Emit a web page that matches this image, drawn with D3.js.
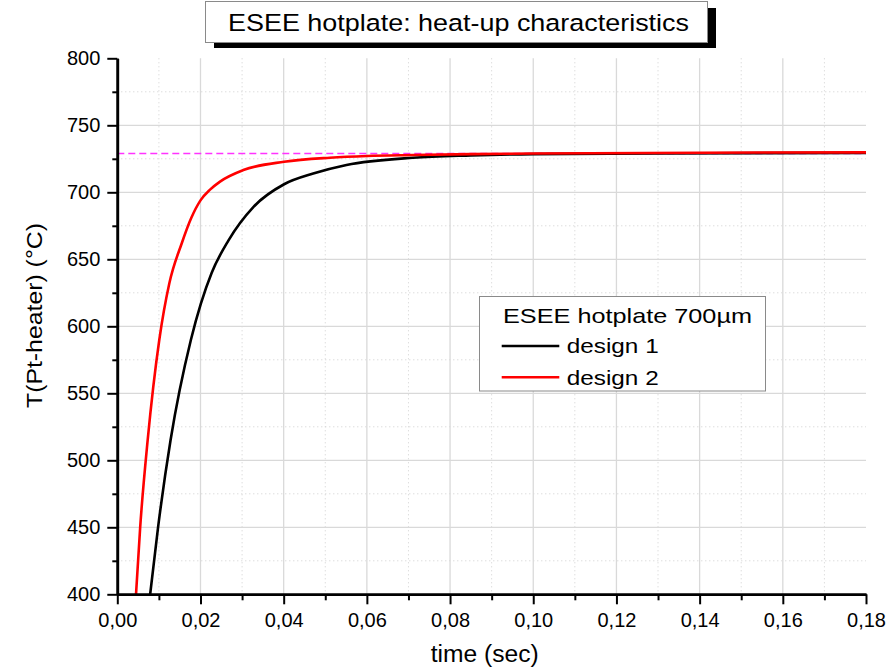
<!DOCTYPE html>
<html>
<head>
<meta charset="utf-8">
<script src="https://cdn.jsdelivr.net/npm/d3@7"></script>
<style>
  body { margin: 0; background: #fff; }
  svg text { font-family: "Liberation Sans", Arial, sans-serif; fill: #000; }
</style>
</head>
<body>
<svg class="chart"></svg>
<script>
// values
var timeDesign1 = [0.0079, 0.0098, 0.0128, 0.0177, 0.0227, 0.0267, 0.0327, 0.0401, 0.0471, 0.0551, 0.0711, 0.0850, 0.1000, 0.1300, 0.1800];
var tempDesign1 = [400, 450, 515, 590, 640, 664, 689, 706, 714, 720.4, 725.8, 727.5, 728.5, 729, 729.4];
var timeDesign2 = [0.0045, 0.0055, 0.0073, 0.0101, 0.0125, 0.0155, 0.0178, 0.0200, 0.0223, 0.0247, 0.0303, 0.0401, 0.0511, 0.0601, 0.0711, 0.0850, 0.1000, 0.1800];
var tempDesign2 = [400, 450, 515, 590, 632, 662, 681, 694, 702, 708, 716.6, 722.8, 725.8, 727.1, 727.8, 728.5, 729, 729.8];
var targetTemp = 729;
var seriesNames = ['design 1', 'design 2'];
var seriesColors = ['#000000', '#ff0000'];
var legendTitle = 'ESEE hotplate 700\u00b5m';
var chartTitle = 'ESEE hotplate: heat-up characteristics';
var xTitle = 'time (sec)';
var yTitle = 'T(Pt-heater) (\u00b0C)';
var xMajorTicks = [0, 0.02, 0.04, 0.06, 0.08, 0.10, 0.12, 0.14, 0.16, 0.18];
var xMinorTicks = [0.01, 0.03, 0.05, 0.07, 0.09, 0.11, 0.13, 0.15, 0.17];
var yMajorTicks = [400, 450, 500, 550, 600, 650, 700, 750, 800];
var yMinorTicks = [425, 475, 525, 575, 625, 675, 725, 775];

var W = 896, H = 669;
var plotL = 117.3, plotR = 866, plotT = 58.3, plotB = 594.3;

var svg = d3.select('.chart').attr('width', W).attr('height', H);

var x = d3.scaleLinear().domain([0, 0.18]).range([plotL, plotR]);
var y = d3.scaleLinear().domain([400, 800]).range([plotB, plotT]);

// grid
var grid = svg.append('g');
grid.selectAll('.vmin').data(xMinorTicks).enter().append('line')
    .attr('x1', function (d) { return x(d); }).attr('x2', function (d) { return x(d); })
    .attr('y1', plotT).attr('y2', plotB)
    .attr('stroke', '#cfcfcf').attr('stroke-dasharray', '1,3');
grid.selectAll('.hmin').data(yMinorTicks).enter().append('line')
    .attr('y1', function (d) { return y(d); }).attr('y2', function (d) { return y(d); })
    .attr('x1', plotL).attr('x2', plotR)
    .attr('stroke', '#cfcfcf').attr('stroke-dasharray', '1,3');
grid.selectAll('.vmaj').data(xMajorTicks.slice(1, -1)).enter().append('line')
    .attr('x1', function (d) { return x(d); }).attr('x2', function (d) { return x(d); })
    .attr('y1', plotT).attr('y2', plotB)
    .attr('stroke', '#d9d9d9').attr('stroke-width', 1.3);
grid.selectAll('.hmaj').data(yMajorTicks.slice(1, -1)).enter().append('line')
    .attr('y1', function (d) { return y(d); }).attr('y2', function (d) { return y(d); })
    .attr('x1', plotL).attr('x2', plotR)
    .attr('stroke', '#d9d9d9').attr('stroke-width', 1.3);

// reference line
svg.append('line')
    .attr('x1', x(0)).attr('x2', x(0.18))
    .attr('y1', y(targetTemp)).attr('y2', y(targetTemp))
    .attr('stroke', '#ff33ff').attr('stroke-width', 1.6).attr('stroke-dasharray', '7,4');

// curves
svg.append('clipPath').attr('id', 'plotclip').append('rect')
    .attr('x', plotL).attr('y', plotT).attr('width', plotR - plotL).attr('height', plotB - plotT);

var line = d3.line()
    .x(function (d) { return x(d[0]); })
    .y(function (d) { return y(d[1]); })
    .curve(d3.curveMonotoneX);

var series = [
    d3.zip(timeDesign1, tempDesign1),
    d3.zip(timeDesign2, tempDesign2)
];
svg.append('g').attr('clip-path', 'url(#plotclip)')
    .selectAll('path').data(series).enter().append('path')
    .attr('d', line)
    .attr('fill', 'none')
    .attr('stroke', function (d, i) { return seriesColors[i]; })
    .attr('stroke-width', 2.6);

// axes
var fmt = function (d) { return d3.format('.2f')(d).replace('.', ','); };

var xAxis = svg.append('g').attr('transform', 'translate(0,' + plotB + ')')
    .call(d3.axisBottom(x).tickValues(xMajorTicks).tickFormat(fmt).tickSize(10).tickSizeOuter(0).tickPadding(9));
var xMinor = svg.append('g').attr('transform', 'translate(0,' + plotB + ')')
    .call(d3.axisBottom(x).tickValues(xMinorTicks).tickFormat('').tickSize(6).tickSizeOuter(0));
var yAxis = svg.append('g').attr('transform', 'translate(' + plotL + ',0)')
    .call(d3.axisLeft(y).tickValues(yMajorTicks).tickSize(10).tickSizeOuter(0).tickPadding(7));
var yMinor = svg.append('g').attr('transform', 'translate(' + plotL + ',0)')
    .call(d3.axisLeft(y).tickValues(yMinorTicks).tickFormat('').tickSize(5).tickSizeOuter(0));

[xAxis, xMinor, yAxis, yMinor].forEach(function (a) {
    a.select('.domain').attr('stroke', '#000').attr('stroke-width', 2.6);
    a.selectAll('.tick line').attr('stroke', '#000').attr('stroke-width', 2);
    a.selectAll('.tick text')
        .attr('font-family', '"Liberation Sans", Arial, sans-serif')
        .attr('font-size', 20).attr('fill', '#000');
});
xAxis.selectAll('.tick text').attr('dy', '0.71em');

// axis titles
svg.append('text')
    .attr('x', (plotL + plotR) / 2 - 7).attr('y', 661.7)
    .attr('text-anchor', 'middle').attr('font-size', 23)
    .attr('textLength', 108).attr('lengthAdjust', 'spacingAndGlyphs')
    .text(xTitle);
svg.append('text')
    .attr('transform', 'translate(42,315.5) rotate(-90)')
    .attr('text-anchor', 'middle').attr('font-size', 22)
    .attr('textLength', 185).attr('lengthAdjust', 'spacingAndGlyphs')
    .text(yTitle);

// title box with shadow
var tb = svg.append('g');
tb.append('rect').attr('x', 214).attr('y', 8).attr('width', 502).attr('height', 40).attr('fill', '#000');
tb.append('rect').attr('x', 205.5).attr('y', 1.5).attr('width', 502).attr('height', 41)
    .attr('fill', '#fff').attr('stroke', '#8a8a8a').attr('stroke-width', 1);
tb.append('text')
    .attr('x', 458.5).attr('y', 30.7)
    .attr('text-anchor', 'middle').attr('font-size', 23.7)
    .attr('textLength', 461).attr('lengthAdjust', 'spacingAndGlyphs')
    .text(chartTitle);

// legend
var lg = svg.append('g');
lg.append('rect').attr('x', 479.5).attr('y', 296.5).attr('width', 286).attr('height', 94.5)
    .attr('fill', '#fff').attr('stroke', '#8a8a8a').attr('stroke-width', 1);
lg.append('text').attr('x', 503).attr('y', 323.3).attr('font-size', 21)
    .attr('textLength', 249).attr('lengthAdjust', 'spacingAndGlyphs')
    .text(legendTitle);
var rowY = [346, 377.3];
seriesNames.forEach(function (name, i) {
    lg.append('line')
        .attr('x1', 501.7).attr('x2', 559.3)
        .attr('y1', rowY[i]).attr('y2', rowY[i])
        .attr('stroke', seriesColors[i]).attr('stroke-width', 2.6);
    lg.append('text').attr('x', 566.7).attr('y', rowY[i] + 7.3).attr('font-size', 21)
        .attr('textLength', 92).attr('lengthAdjust', 'spacingAndGlyphs')
        .text(name);
});
</script>
</body>
</html>
